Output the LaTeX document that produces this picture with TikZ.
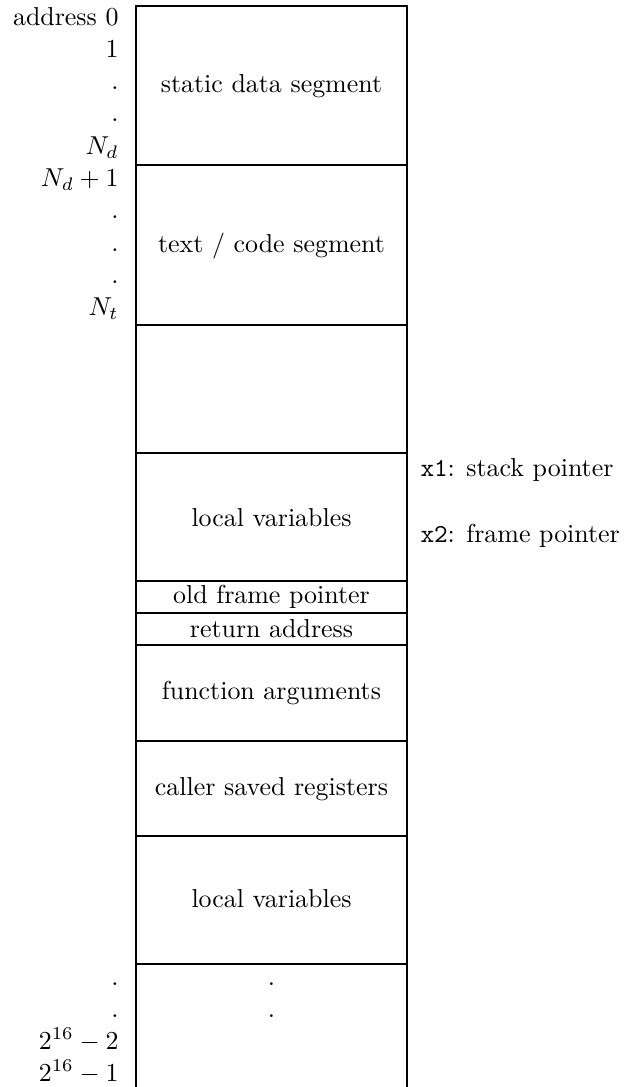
\documentclass[tikz,border=0pt]{standalone}
\usepackage{tikz}
\usetikzlibrary{positioning}

\begin{document}
\begin{tikzpicture}[x=0.386pt, y=-0.386pt,
  frame/.style={line width=0.4pt},
  seg/.style={inner sep=0pt, anchor=center},
  addr/.style={inner sep=0pt, anchor=base east},
  reg/.style={inner sep=0pt, anchor=base west}]
\useasboundingbox (0,0) rectangle (629,1087);
% memory column, open at the bottom
\draw[frame] (136,1087) -- (136,6) -- (407,6) -- (407,1087);
\foreach \y in {165,325,453,581,613,645,741,836,964}
  \draw[frame] (136,\y) -- (407,\y);
% segments
\node[seg] (sds) at (271.5,86) {static data segment};
\node[seg] (tcs) at (271.5,246) {text / code segment};
\node[seg] (lv1) at (271.5,518) {local variables};
\node[seg] (ofp) at (271.5,597) {old frame pointer};
\node[seg] (ret) at (271.5,629) {return address};
\node[seg] (fa) at (271.5,693) {function arguments};
\node[seg] (csr) at (271.5,789) {caller saved registers};
\node[seg] (lv2) at (271.5,899) {local variables};
\node[addr, anchor=base] (md1) at (271.5,985) {.};
\node[addr, anchor=base] (md2) at (271.5,1017) {.};
% addresses
\foreach \t [count=\i from 0] in {address 0, 1, ., ., $N_d$, $N_d+1$, ., ., ., $N_t$}
  \node[addr] (a\i) at (119,{25+32.3*\i}) {\t};
\foreach \t [count=\i from 0] in {., ., $2^{16}-2$, $2^{16}-1$}
  \node[addr] (b\i) at (119,{985+32*\i}) {\t};
% registers
\node[reg] (sp) at (420,476) {\texttt{x1}: stack pointer};
\node[reg] (fp) at (420,542) {\texttt{x2}: frame pointer};
\end{tikzpicture}
\end{document}
